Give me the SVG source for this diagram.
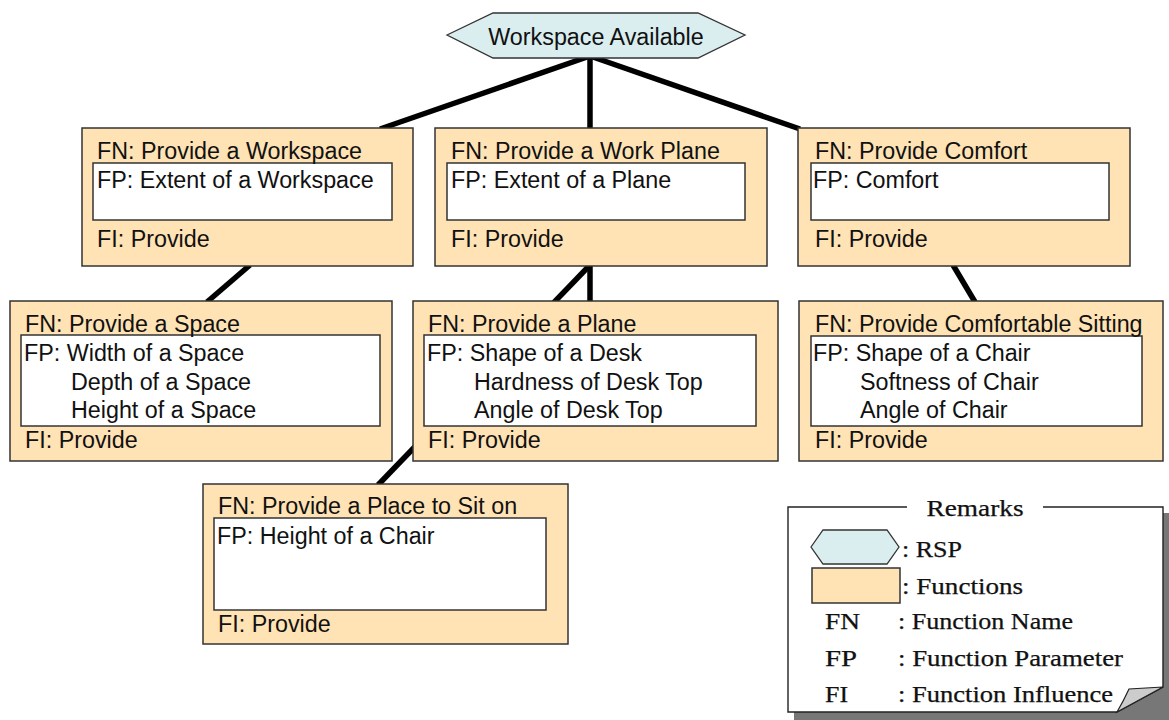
<svg xmlns="http://www.w3.org/2000/svg" width="1169" height="720" viewBox="0 0 1169 720">
<style>
.n{fill:#FFE3B5;stroke:#333;stroke-width:1.5}
.fp{fill:#fff;stroke:#333;stroke-width:1.5}
.rsp{fill:#DAEEF0;stroke:#333;stroke-width:1.3}
.t{font-family:"Liberation Sans",Arial,sans-serif;font-size:23.3px;fill:#111}
.s{font-family:"Liberation Serif","Times New Roman",serif;font-size:22.5px;fill:#111;stroke:#111;stroke-width:0.25}
.c{stroke:#000;stroke-width:5.5;fill:none}
</style>
<rect width="1169" height="720" fill="#fff"/>
<g id="connectors">
<line class="c" x1="590" y1="56" x2="380" y2="129"/>
<line class="c" x1="590" y1="56" x2="590" y2="129"/>
<line class="c" x1="590" y1="56" x2="800" y2="129"/>
<line class="c" x1="250" y1="265" x2="207" y2="302"/>
<line class="c" x1="590" y1="265" x2="590" y2="302"/>
<line class="c" x1="590" y1="265" x2="378" y2="485"/>
<line class="c" x1="953" y1="265" x2="975" y2="302"/>
</g>
<g id="rsp-workspace-available">
<polygon class="rsp" points="447,35 493,13 698,13 745,35 698,58 493,58"/>
<text class="t" x="596" y="45" text-anchor="middle">Workspace Available</text>
</g>
<g id="fn-provide-a-workspace">
<rect class="n" x="82" y="128" width="331" height="138"/>
<rect class="fp" x="93" y="163" width="299" height="57"/>
<text class="t" x="97" y="159">FN: Provide a Workspace</text>
<text class="t" x="97" y="188">FP: Extent of a Workspace</text>
<text class="t" x="97" y="247">FI: Provide</text>
</g>
<g id="fn-provide-a-work-plane">
<rect class="n" x="435" y="128" width="332" height="138"/>
<rect class="fp" x="447" y="163" width="298" height="57"/>
<text class="t" x="451" y="159">FN: Provide a Work Plane</text>
<text class="t" x="451" y="188">FP: Extent of a Plane</text>
<text class="t" x="451" y="247">FI: Provide</text>
</g>
<g id="fn-provide-comfort">
<rect class="n" x="798" y="128" width="332" height="138"/>
<rect class="fp" x="811" y="163" width="298" height="57"/>
<text class="t" x="815" y="159">FN: Provide Comfort</text>
<text class="t" x="813" y="188">FP: Comfort</text>
<text class="t" x="815" y="247">FI: Provide</text>
</g>
<g id="fn-provide-a-space">
<rect class="n" x="10" y="301" width="382" height="160"/>
<rect class="fp" x="21" y="335" width="359" height="91"/>
<text class="t" x="25" y="332">FN: Provide a Space</text>
<text class="t" x="24" y="361">FP: Width of a Space</text>
<text class="t" x="71" y="390">Depth of a Space</text>
<text class="t" x="71" y="418">Height of a Space</text>
<text class="t" x="25" y="448">FI: Provide</text>
</g>
<g id="fn-provide-a-plane">
<rect class="n" x="413" y="301" width="365" height="160"/>
<rect class="fp" x="424" y="335" width="332" height="91"/>
<text class="t" x="428" y="332">FN: Provide a Plane</text>
<text class="t" x="427" y="361">FP: Shape of a Desk</text>
<text class="t" x="474" y="390">Hardness of Desk Top</text>
<text class="t" x="474" y="418">Angle of Desk Top</text>
<text class="t" x="428" y="448">FI: Provide</text>
</g>
<g id="fn-provide-comfortable-sitting">
<rect class="n" x="799" y="301" width="364" height="160"/>
<rect class="fp" x="811" y="336" width="331" height="90"/>
<text class="t" x="815" y="332">FN: Provide Comfortable Sitting</text>
<text class="t" x="813" y="361">FP: Shape of a Chair</text>
<text class="t" x="860" y="390">Softness of Chair</text>
<text class="t" x="860" y="418">Angle of Chair</text>
<text class="t" x="815" y="448">FI: Provide</text>
</g>
<g id="fn-provide-a-place-to-sit-on">
<rect class="n" x="203" y="484" width="365" height="160"/>
<rect class="fp" x="214" y="518" width="332" height="92"/>
<text class="t" x="218" y="514">FN: Provide a Place to Sit on</text>
<text class="t" x="217" y="544">FP: Height of a Chair</text>
<text class="t" x="218" y="632">FI: Provide</text>
</g>
<g id="remarks">
<rect x="794" y="513" width="375" height="207" fill="#777"/>
<polygon points="788,507 1163,507 1163,687 1117,712 788,712" fill="#fff"/>
<polyline points="907,507 788,507 788,712 1117,712 1163,687 1163,507 1043,507" fill="none" stroke="#222" stroke-width="1.4"/>
<path d="M1163,687 L1129,689 Q1124,700 1117,712 Z" fill="#ccc" stroke="#222" stroke-width="1.2"/>
<text class="s" x="975" y="516" text-anchor="middle" textLength="97" lengthAdjust="spacingAndGlyphs">Remarks</text>
<polygon class="rsp" points="811,547 823,530 887,530 899,547 887,564 823,564"/>
<text class="s" x="902" y="557" textLength="60" lengthAdjust="spacingAndGlyphs">: RSP</text>
<rect x="812" y="568" width="88" height="35" fill="#FFE3B5" stroke="#333" stroke-width="1.5"/>
<text class="s" x="902" y="594" textLength="121" lengthAdjust="spacingAndGlyphs">: Functions</text>
<text class="s" x="825" y="629" textLength="35" lengthAdjust="spacingAndGlyphs">FN</text>
<text class="s" x="898" y="629" textLength="175" lengthAdjust="spacingAndGlyphs">: Function Name</text>
<text class="s" x="825" y="666" textLength="32" lengthAdjust="spacingAndGlyphs">FP</text>
<text class="s" x="898" y="666" textLength="225" lengthAdjust="spacingAndGlyphs">: Function Parameter</text>
<text class="s" x="825" y="702" textLength="23" lengthAdjust="spacingAndGlyphs">FI</text>
<text class="s" x="898" y="702" textLength="215" lengthAdjust="spacingAndGlyphs">: Function Influence</text>
</g>
</svg>
